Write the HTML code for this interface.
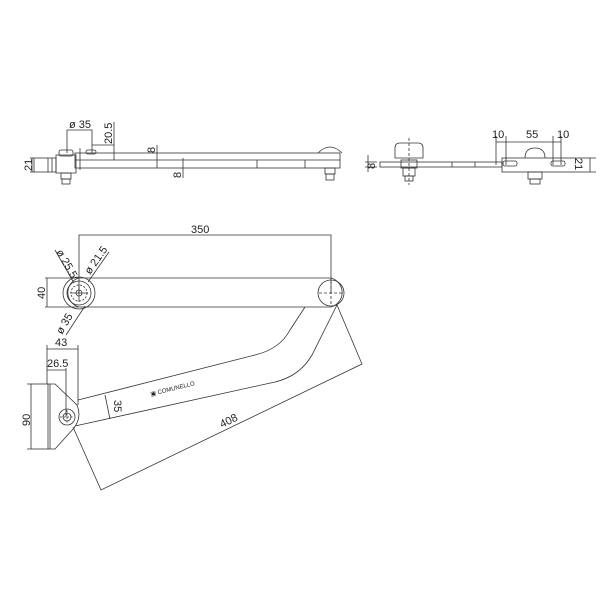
<!DOCTYPE html>
<html><head><meta charset="utf-8"><style>
html,body{margin:0;padding:0;background:#fff}
svg{display:block}
text{font-family:"Liberation Sans",sans-serif;fill:#222}
</style></head><body>
<svg width="600" height="600" viewBox="0 0 600 600" xmlns="http://www.w3.org/2000/svg">
<g fill="none" stroke="#333" stroke-width="0.8">
<!-- TOP VIEW -->
<rect x="75" y="153" width="265" height="15"/>
<line x1="75" y1="160" x2="340" y2="160"/>
<line x1="257" y1="160" x2="257" y2="168"/>
<line x1="305" y1="160" x2="305" y2="168"/>
<rect x="34" y="158" width="14" height="14"/>
<path d="M48 158 h8 v14 h-8 M52 158 v14"/>
<path d="M56 155 h20 v18 h-20 z"/>
<rect x="59" y="150" width="14" height="6" rx="2"/>
<rect x="61" y="173" width="10" height="6"/>
<rect x="62" y="179" width="8" height="5"/>
<path d="M318 153 q12 -12 24 0"/>
<rect x="325" y="168" width="10" height="6"/>
<rect x="326" y="174" width="8" height="6"/>
<rect x="86" y="150" width="10" height="4" rx="2"/>
<!-- top dims -->
<path d="M67 153 V130 H92 V153"/>
<line x1="80" y1="148" x2="80" y2="170"/>
<line x1="92" y1="145" x2="114" y2="145"/>
<line x1="114" y1="122" x2="114" y2="160"/>
<line x1="157" y1="145" x2="157" y2="168"/>
<line x1="183" y1="158" x2="183" y2="178"/>
<line x1="30" y1="158" x2="34" y2="158"/><line x1="30" y1="172" x2="34" y2="172"/><line x1="32" y1="158" x2="32" y2="172"/>
<!-- RIGHT VIEW -->
<rect x="380" y="162" width="122" height="5"/>
<line x1="452" y1="162" x2="452" y2="167"/><line x1="475" y1="162" x2="475" y2="167"/>
<path d="M395 158 v-10 q0 -5 5 -5 h18 q5 0 5 5 v10 z"/>
<rect x="401" y="160" width="16" height="8"/>
<rect x="403" y="168" width="12" height="8"/>
<rect x="405" y="176" width="8" height="5"/>
<line x1="409" y1="138" x2="409" y2="185" stroke-dasharray="3 2"/>
<rect x="502" y="158" width="88" height="14"/>
<path d="M525 158 q0 -10 10 -10 q10 0 10 10"/>
<rect x="528" y="172" width="14" height="7"/><rect x="530" y="179" width="10" height="5"/>
<rect x="503" y="161" width="14" height="5" rx="2"/><rect x="551" y="161" width="14" height="5" rx="2"/>
<path d="M496 142 H561 M496 136 V165 M506 136 V165 M553 136 V165 M561 136 V165"/>
<path d="M377 162 H365 M377 167 H365 M368 155 V172"/>
<path d="M590 158 h6 M590 172 h6"/>
<!-- MAIN ARM -->
<path d="M79 278 H331 a15 15 0 0 1 0 29 H79 a15 15 0 0 1 0 -29 z"/>
<circle cx="79" cy="293" r="16"/>
<circle cx="79" cy="293" r="12"/>
<circle cx="79" cy="293" r="8" stroke-dasharray="2 1.5"/>
<circle cx="79" cy="293" r="3"/>
<circle cx="331" cy="293" r="13"/>
<path d="M319 293 h24 M331 281 v24" stroke-dasharray="3 2"/>
<path d="M70 293 h18 M79 284 v18"/>
<!-- dims main -->
<path d="M79 293 V235 H331 V293"/>
<path d="M79 278 H45 M79 307 H45 M47 278 V307"/>
<path d="M55 250 L74 283 M109 252 L88 282 M85 306 L66 335"/>
<!-- LOWER ARM -->
<path d="M78 400 L255 355 Q280 349 290 330 L305 307"/>
<path d="M75 426 L275 382 Q300 376 312 355 L337 305"/>
<!-- bracket -->
<rect x="31" y="384" width="19" height="65"/>
<line x1="48" y1="384" x2="48" y2="449"/>
<path d="M50 384 H55 L77 405 Q82 417 74 428 L55 449 H50"/>
<circle cx="67" cy="417" r="8"/><circle cx="67" cy="417" r="4"/>
<path d="M60 417 h14 M67 410 v14" stroke-dasharray="2 1.5"/>
<!-- dims lower -->
<path d="M47 384 V345 M78 405 V345 M47 349 H78 M66 417 V368 M47 370 H66"/>
<path d="M31 384 H27 M31 449 H27"/>
<path d="M105 395 L110 419"/>
<path d="M73 427 L101 490 L362 364 L337 305"/>
</g>
<g font-size="11">
<text x="69" y="128">ø 35</text>
<text transform="translate(112,144) rotate(-90)">20.5</text>
<text transform="translate(155,153) rotate(-90)">8</text>
<text transform="translate(181,178) rotate(-90)">8</text>
<text transform="translate(32,171) rotate(-90)">21</text>
<text x="492" y="138">10</text><text x="526" y="138">55</text><text x="557" y="138">10</text>
<text transform="translate(575,158) rotate(90)">21</text>
<text transform="translate(375,169) rotate(-90)">8</text>
<text x="191" y="233">350</text>
<text transform="translate(45,299) rotate(-90)">40</text>
<text transform="translate(56,252) rotate(60)">ø 25.5</text>
<text transform="translate(90,275) rotate(-55)">ø 21.5</text>
<text transform="translate(62,335) rotate(-60)">ø 35</text>
<text x="55" y="346">43</text>
<text x="47" y="367">26.5</text>
<text transform="translate(30,426) rotate(-90)">90</text>
<text transform="translate(114,400) rotate(90)">35</text>
<text transform="translate(222,428) rotate(-26)">408</text>
<text transform="translate(151,396) rotate(-14)" font-size="6">▣ COMUNELLO</text>
</g>
</svg>
</body></html>
